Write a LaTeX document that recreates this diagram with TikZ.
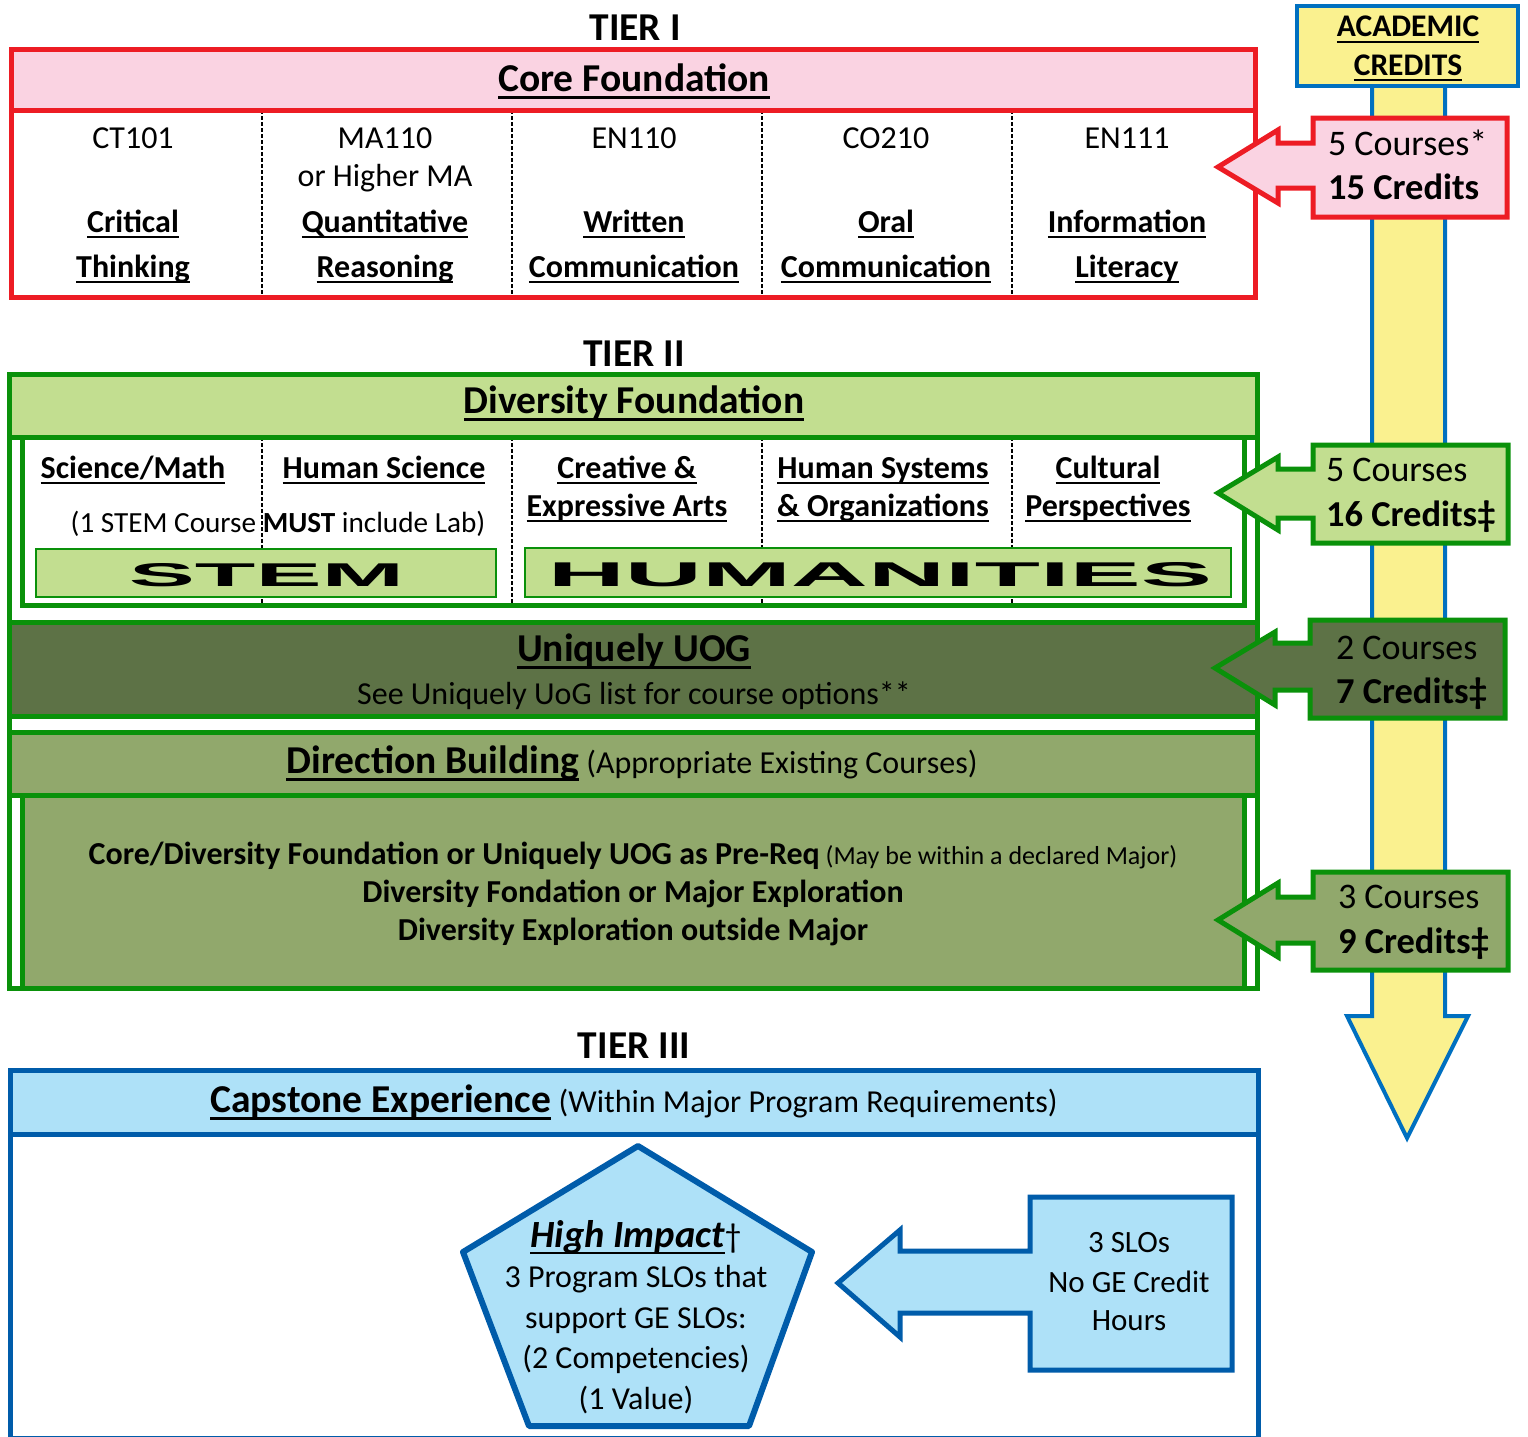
\documentclass[tikz,border=0pt]{standalone}
\usepackage{fontspec}
\setmainfont{Carlito}
\newfontfamily\widefont{Liberation Sans}
\newsavebox{\myulbox}
\newcommand\myul[1]{\sbox\myulbox{#1}\rlap{\rule[-0.19em]{\wd\myulbox}{0.07em}}\usebox\myulbox}
\newcommand\fs[1]{\fontsize{#1}{#1}\selectfont}
\definecolor{redc}{RGB}{237,28,36}
\definecolor{pinkc}{RGB}{250,211,226}
\definecolor{greenc}{RGB}{10,145,10}
\definecolor{ltgreen}{RGB}{194,222,144}
\definecolor{dkgreen}{RGB}{93,114,70}
\definecolor{olivec}{RGB}{145,168,108}
\definecolor{yellowc}{RGB}{250,241,143}
\definecolor{bluec}{RGB}{0,112,192}
\definecolor{dkblue}{RGB}{0,92,170}
\definecolor{ltblue}{RGB}{174,225,248}
\begin{document}
\begin{tikzpicture}[x=1pt,y=-1pt,
  txt/.style={anchor=base, inner sep=0pt, outer sep=0pt},
  hd/.style={txt, font=\fs{39.5}\bfseries},
  rg/.style={txt, font=\fs{32}},
  bd/.style={txt, font=\fs{32}\bfseries},
  co/.style={txt, anchor=base west, font=\fs{36}},
  cob/.style={txt, anchor=base west, font=\fs{36.5}\bfseries},
  divider/.style={line width=1.6pt, dash pattern=on 3.5pt off 2.5pt},
  callout/.style={line width=5pt, line join=miter},
  frame/.style={line width=5pt}]
\useasboundingbox (0,0) rectangle (1528,1437);

% ---------- academic credits arrow ----------
\draw[bluec, line width=4pt, fill=yellowc, line join=miter]
  (1372,86) -- (1372,1016) -- (1347,1016) -- (1407,1138) -- (1468,1016) -- (1445,1016) -- (1445,86);
\draw[bluec, line width=4pt, fill=yellowc] (1297,6) rectangle (1518,86);
\node[txt, font=\fs{31.5}\bfseries] (acad1) at (1408,37) {\myul{ACADEMIC}};
\node[txt, font=\fs{31.5}\bfseries] (acad2) at (1408,75) {\myul{CREDITS}};

% ---------- TIER I ----------
\node[hd] (tier1) at (635,41) {TIER I};
\fill[pinkc] (11,50) rectangle (1255,110);
\foreach \x in {262,512,762,1012} \draw[divider] (\x,110) -- (\x,297);
\draw[redc, frame] (11,110) -- (1255,110);
\draw[redc, frame] (11,50) rectangle (1255,297);
\node[hd] (core) at (634,91) {\myul{Core Foundation}};

\node[rg] (c1a) at (133,148) {CT101};
\node[bd] (c1b) at (133,232) {\myul{Critical}};
\node[bd] (c1c) at (133,277) {\myul{Thinking}};
\node[rg] (c2a) at (385,148) {MA110};
\node[rg] (c2d) at (385,186) {or Higher MA};
\node[bd] (c2b) at (385,232) {\myul{Quantitative}};
\node[bd] (c2c) at (385,277) {\myul{Reasoning}};
\node[rg] (c3a) at (634,148) {EN110};
\node[bd] (c3b) at (634,232) {\myul{Written}};
\node[bd] (c3c) at (634,277) {\myul{Communication}};
\node[rg] (c4a) at (886,148) {CO210};
\node[bd] (c4b) at (886,232) {\myul{Oral}};
\node[bd] (c4c) at (886,277) {\myul{Communication}};
\node[rg] (c5a) at (1127,148) {EN111};
\node[bd] (c5b) at (1127,232) {\myul{Information}};
\node[bd] (c5c) at (1127,277) {\myul{Literacy}};

% red callout
\draw[redc, callout, fill=pinkc]
  (1313,118) -- (1507,118) -- (1507,217) -- (1313,217) -- (1313,188) -- (1278,188)
  -- (1278,203) -- (1218,167) -- (1278,130) -- (1278,143) -- (1313,143) -- cycle;
\node[co] (k1a) at (1328,155) {5 Courses*};
\node[cob] (k1b) at (1328,199) {15 Credits};

% ---------- TIER II ----------
\node[hd] (tier2) at (634,366) {TIER II};
\fill[ltgreen] (9,374) rectangle (1257,437);
\foreach \x in {262,512,762,1012} \draw[divider] (\x,437) -- (\x,605);
\draw[greenc, frame] (22,437) rectangle (1244,605);
\draw[greenc, line width=2.5pt, fill=ltgreen] (36,549) rectangle (496,597);
\draw[greenc, line width=2.5pt, fill=ltgreen] (525,548) rectangle (1231,597);
\node[txt, anchor=center] (stem) at (266.5,575.5) {\resizebox{275pt}{23pt}{\widefont\bfseries STEM}};
\node[txt, anchor=center] (hum) at (880,575) {\resizebox{664pt}{24pt}{\widefont\bfseries HUMANITIES}};
\draw[greenc, frame] (9,437) -- (1257,437);
\node[hd] (div) at (634,413) {\myul{Diversity Foundation}};

\node[bd] (d1) at (133,478) {\myul{Science/Math}};
\node[bd] (d2) at (384,478) {\myul{Human Science}};
\node[txt, font=\fs{29.2}] (d12) at (278,532) {(1 STEM Course {\bfseries MUST} include Lab)};
\node[bd] (d3a) at (627,478) {\myul{Creative \&}};
\node[bd] (d3b) at (627,516) {\myul{Expressive Arts}};
\node[bd] (d4a) at (883,478) {\myul{Human Systems}};
\node[bd] (d4b) at (883,516) {\myul{\& Organizations}};
\node[bd] (d5a) at (1108,478) {\myul{Cultural}};
\node[bd] (d5b) at (1108,516) {\myul{Perspectives}};

% Uniquely UOG
\draw[greenc, frame, fill=dkgreen] (9,622) rectangle (1257,716);
\node[hd] (uniq) at (634,661) {\myul{Uniquely UOG}};
\node[rg] (uniq2) at (634,704) {See Uniquely UoG list for course options**};

% Direction Building
\draw[greenc, frame, fill=olivec] (9,732) rectangle (1257,795);
\draw[greenc, frame, fill=olivec] (22,795) rectangle (1244,988);
\node[txt] (dir) at (632,773) {{\fs{39.5}\bfseries\myul{Direction Building}}{\fs{32} (Appropriate Existing Courses)}};
\node[txt] (dir1) at (633,864) {{\fs{32}\bfseries Core/Diversity Foundation or Uniquely UOG as Pre-Req}{\fs{26} (May be within a declared Major)}};
\node[bd] (dir2) at (633,902) {Diversity Fondation or Major Exploration};
\node[bd] (dir3) at (633,940) {Diversity Exploration outside Major};

\draw[greenc, frame] (9,374) rectangle (1257,988);

% green callouts
\draw[greenc, callout, fill=ltgreen]
  (1313,445) -- (1508,445) -- (1508,543) -- (1313,543) -- (1313,518) -- (1278,518)
  -- (1278,530) -- (1218,493) -- (1278,457) -- (1278,469) -- (1313,469) -- cycle;
\node[co] (k2a) at (1326,481) {5 Courses};
\node[cob] (k2b) at (1326,526) {16 Credits‡};

\draw[greenc, callout, fill=dkgreen]
  (1310,620) -- (1505,620) -- (1505,718) -- (1310,718) -- (1310,690) -- (1275,690)
  -- (1275,705) -- (1215,668) -- (1275,632) -- (1275,643) -- (1310,643) -- cycle;
\node[co] (k3a) at (1336,659) {2 Courses};
\node[cob] (k3b) at (1336,703) {7 Credits‡};

\draw[greenc, callout, fill=olivec]
  (1313,872) -- (1508,872) -- (1508,970) -- (1313,970) -- (1313,943) -- (1278,943)
  -- (1278,957) -- (1218,920) -- (1278,883) -- (1278,897) -- (1313,897) -- cycle;
\node[co] (k4a) at (1338,908) {3 Courses};
\node[cob] (k4b) at (1338,953) {9 Credits‡};

% ---------- TIER III ----------
\node[hd] (tier3) at (634,1058) {TIER III};
\fill[ltblue] (10,1070) rectangle (1258,1134);
\draw[dkblue, frame] (10,1134) -- (1258,1134);
\draw[dkblue, frame] (10,1070) rectangle (1258,1438);
\node[txt] (cap) at (634,1112) {{\fs{39.5}\bfseries\myul{Capstone Experience}}{\fs{32} (Within Major Program Requirements)}};

\draw[dkblue, line width=6pt, fill=ltblue, line join=round]
  (638,1146) -- (812,1252) -- (749,1426) -- (529,1426) -- (463,1252) -- cycle;
\node[txt] (hi) at (636,1247) {{\fs{38.5}\bfseries\itshape\myul{High Impact}}{\fs{34}†}};
\node[rg] (hi1) at (636,1287) {3 Program SLOs that};
\node[rg] (hi2) at (636,1328) {support GE SLOs:};
\node[rg] (hi3) at (636,1368) {(2 Competencies)};
\node[rg] (hi4) at (636,1409) {(1 Value)};

\draw[dkblue, callout, fill=ltblue]
  (1030,1197) -- (1232,1197) -- (1232,1370) -- (1030,1370) -- (1030,1313) -- (900,1313)
  -- (900,1337) -- (838,1283) -- (900,1230) -- (900,1251) -- (1030,1251) -- cycle;
\node[txt, font=\fs{31}] (s1) at (1129,1252) {3 SLOs};
\node[txt, font=\fs{31}] (s2) at (1129,1292) {No GE Credit};
\node[txt, font=\fs{31}] (s3) at (1129,1330) {Hours};
\end{tikzpicture}
\end{document}
